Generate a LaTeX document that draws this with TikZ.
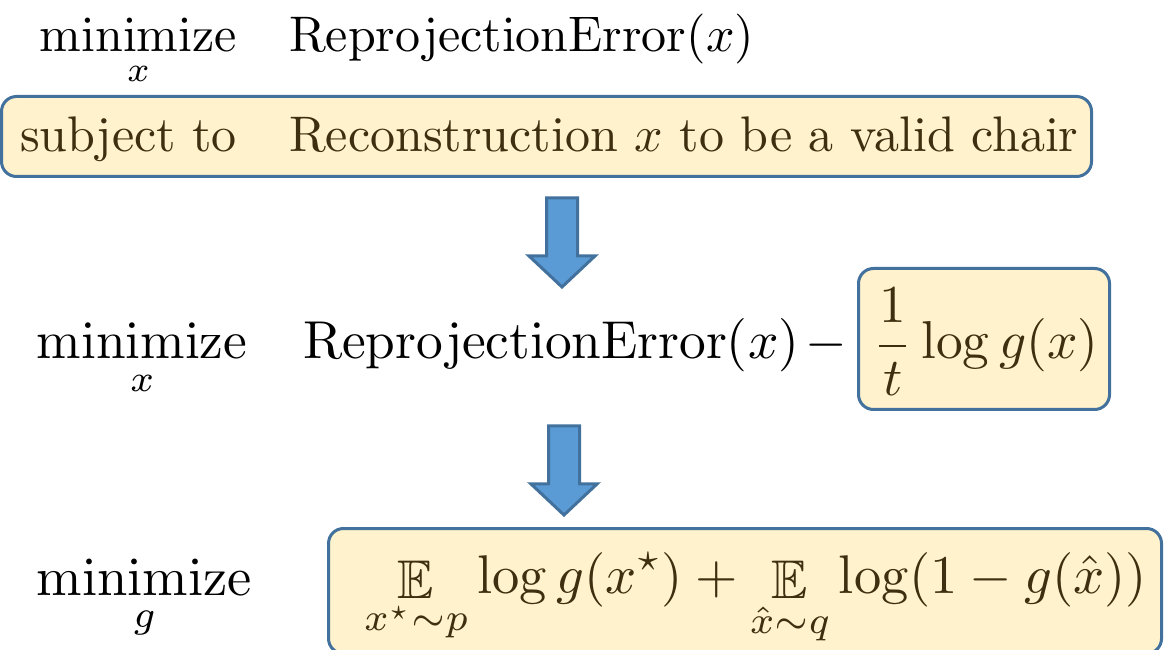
\documentclass[tikz,border=0pt]{standalone}
\usepackage{amsmath,amssymb}
\usetikzlibrary{calc}
\definecolor{boxfill}{HTML}{FFF2CC}
\definecolor{boxline}{HTML}{41719C}
\definecolor{arrowfill}{HTML}{5B9BD5}
\definecolor{intext}{HTML}{3D2F0F}
\tikzset{
  plain/.style={inner sep=0pt, outer sep=0pt},
  panel/.style={draw=boxline, fill=boxfill, line width=0.6pt, rounded corners=3pt, inner sep=0pt, anchor=north west},
  intx/.style={text=intext},
  blockarrow/.style={draw=boxline, fill=arrowfill, line width=0.6pt, line join=miter},
  downarrow/.pic={\draw[blockarrow] (-15.5,-89) -- (15.5,-89) -- (15.5,-31) -- (33,-31) -- (0,0) -- (-33,-31) -- (-15.5,-31) -- cycle;}
}
\begin{document}
\begin{tikzpicture}[x=0.2pt,y=-0.2pt]
\useasboundingbox (0,0) rectangle (1171,650);
% row 1
\node[plain, anchor=base east] (min1) at (237,52) {$\displaystyle\operatorname*{minimize}_{x}$};
\node[plain, anchor=base west] (obj1) at (289,52) {$\mathrm{ReprojectionError}(x)$};
\node[panel, minimum width=218pt, minimum height=16pt] (c1) at (0,95) {};
\node[plain, intx, anchor=base east] (st) at (237,152) {subject to};
\node[plain, intx, anchor=base west] (cons) at (289,152) {Reconstruction $x$ to be a valid chair};
% arrow 1
\pic at (562,287) {downarrow};
% row 2
\node[plain, anchor=base west, scale=1.067] (min2) at (37,359) {$\displaystyle\operatorname*{minimize}_{x}$};
\node[plain, anchor=base west, scale=1.067] (obj2) at (303,359) {$\mathrm{ReprojectionError}(x)$};
\node[plain, anchor=base, scale=1.067] (minus) at (826,359) {$-$};
\node[panel, minimum width=50.2pt, minimum height=28.2pt] (c2) at (857,267) {};
\node[plain, intx, anchor=base west, scale=1.067] (reg) at (873,359) {$\displaystyle\frac{1}{t}\log g(x)$};
% arrow 2
\pic at (564,515) {downarrow};
% row 3
\node[plain, anchor=base west, scale=1.09] (min3) at (37,595) {$\displaystyle\operatorname*{minimize}_{g}$};
\node[panel, minimum width=166.6pt, minimum height=25pt] (c3) at (327,527) {};
\node[plain, intx, anchor=base west, scale=1.09] (gan) at (364,593) {$\displaystyle\mathop{\mathbb{E}}_{x^\star\sim p}\log g(x^\star)+\mathop{\mathbb{E}}_{\hat x\sim q}\log(1-g(\hat x))$};
\end{tikzpicture}
\end{document}
